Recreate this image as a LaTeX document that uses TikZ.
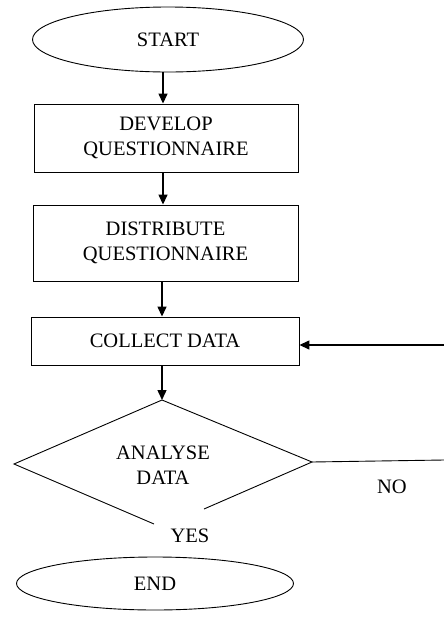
\documentclass[tikz,border=0pt]{standalone}
\usepackage{fontspec}
\setmainfont{Liberation Serif}
\usetikzlibrary{shapes.geometric,arrows.meta}
\begin{document}
\begin{tikzpicture}[x=1pt,y=-1pt,
  font=\fontsize{20.5}{25}\selectfont,
  shapeline/.style={draw, line width=0.9pt},
  oval/.style={shapeline, ellipse, inner sep=0pt},
  procbox/.style={shapeline, rectangle, align=center, inner sep=0pt},
  arr/.style={line width=1.4pt, -{Triangle[length=10pt,width=9pt]}},
  plain/.style={line width=0.9pt},
  lbl/.style={inner sep=0pt, align=center}]
\useasboundingbox (0,0) rectangle (444,622);

\node[oval, minimum width=271pt, minimum height=65pt] (start) at (168,39.5) {START};
\node[procbox, minimum width=264pt, minimum height=68pt] (dev) at (166,138) {DEVELOP\\QUESTIONNAIRE};
\node[procbox, minimum width=265pt, minimum height=76pt] (dist) at (165.5,243) {DISTRIBUTE\\QUESTIONNAIRE};
\node[procbox, minimum width=268pt, minimum height=48pt] (col) at (165,341) {COLLECT DATA};
\node[lbl] (ana) at (163,465) {ANALYSE\\DATA};
\node[oval, minimum width=277pt, minimum height=53pt] (end) at (155,583.5) {END};
\node[lbl] (yes) at (190,536) {YES};
\node[lbl] (no) at (392,487) {NO};

\coordinate (dl) at (14,464);
\coordinate (dt) at (162,400);
\coordinate (dr) at (312,462);
\coordinate (dbl) at (154,524);
\coordinate (dbr) at (204,509);
\coordinate (noend) at (444,460);
\coordinate (fb) at (444,345);
\coordinate (a1) at (163,0);
\coordinate (a2) at (162,0);

\draw[plain] (dbl) -- (dl) -- (dt) -- (dr) -- (dbr);

\draw[arr] (start.south -| a1) -- (dev.north -| a1);
\draw[arr] (dev.south -| a1) -- (dist.north -| a1);
\draw[arr] (dist.south -| a2) -- (col.north -| a2);
\draw[arr] (col.south -| dt) -- (dt);
\draw[plain] (dr) -- (noend);
\draw[arr] (fb) -- (fb -| col.east);
\end{tikzpicture}
\end{document}
